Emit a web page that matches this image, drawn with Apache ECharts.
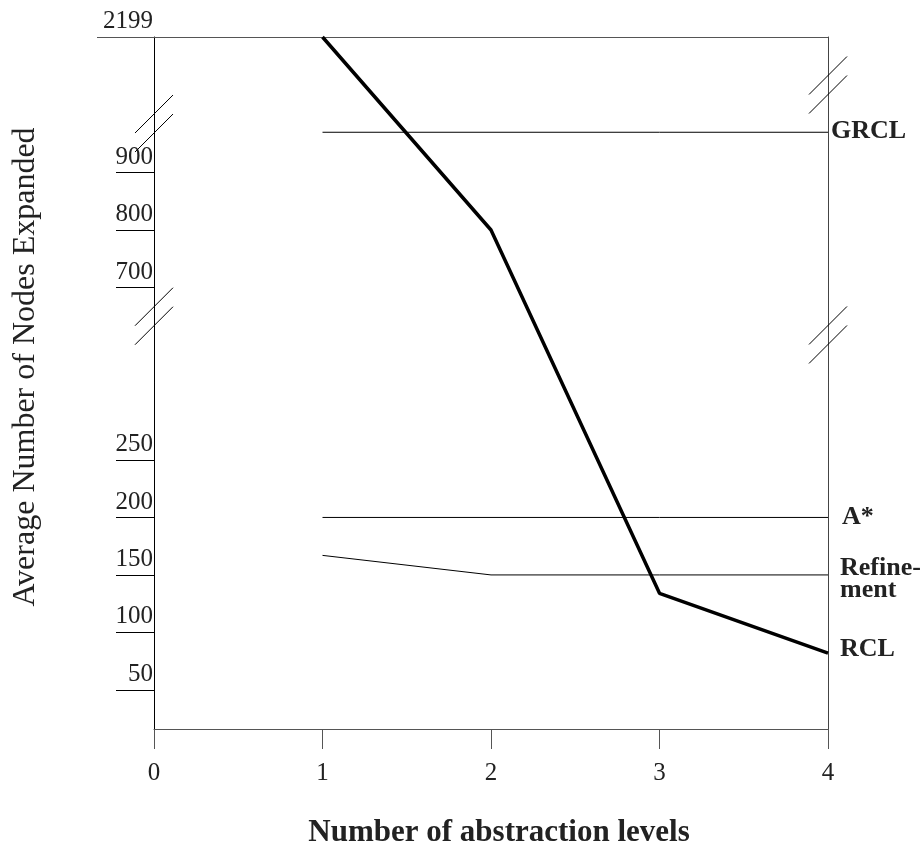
<!DOCTYPE html>
<html>
<head>
<meta charset="utf-8">
<script src="https://cdn.jsdelivr.net/npm/echarts@6/dist/echarts.min.js"></script>
<style>html,body{margin:0;padding:0;background:#fff}#chart{width:922px;height:855px}</style>
</head>
<body>
<div id="chart"></div>
<script>
// ---- data ----
const xLevels = [1, 2, 3, 4];
const grclValues = [970, 970, 970, 970];
const aStarValues = [200, 200, 200, 200];
const refinementValues = [167, 150, 150, 150];
const rclValues = [2199, 800, 134, 82];
const xTickValues = [0, 1, 2, 3, 4];
const yTickValues = [50, 100, 150, 200, 250, 700, 800, 900];
const yTopTick = 2199;
const yBottomValue = 16;

// ---- broken-axis scale: value -> axis units (3 segments) ----
const segments = [
  { v0: 0,    v1: 300,  d0: 0,    d1: 6 },
  { v0: 650,  v1: 1000, d0: 7.5,  d1: 11 },
  { v0: 2100, v1: 2199, d0: 11.5, d1: 12.357 }
];
function toD(v) {
  let seg = segments[0];
  for (const s of segments) { if (v >= s.v0) seg = s; }
  if (v > segments[0].v1 && v < segments[1].v0) seg = segments[0];
  return seg.d0 + (v - seg.v0) * (seg.d1 - seg.d0) / (seg.v1 - seg.v0);
}
function labelFor(d) {
  const all = yTickValues.concat([yTopTick]);
  for (const t of all) if (Math.abs(toD(t) - d) < 1e-6) return String(t);
  return '';
}
const yMin = toD(yBottomValue);
const yMax = toD(yTopTick);

const FONT = 'Liberation Serif';
const TXT = '#222';

function mkSeries(name, vals, width, labelDist, labelDy) {
  return {
    name: name, type: 'line', clip: false, showSymbol: false, symbol: 'none',
    data: xLevels.map((x, i) => [x, toD(vals[i])]),
    lineStyle: { color: '#000', width: width },
    itemStyle: { color: '#000' },
    emphasis: { disabled: true },
    endLabel: {
      show: true, formatter: name === 'Refinement' ? 'Refine-\nment' : name,
      distance: labelDist, offset: [0, labelDy],
      fontFamily: FONT, fontWeight: 'bold', fontSize: 26, lineHeight: 22, color: TXT
    }
  };
}

// axis-break glyph positions (decoration) in axis units
const breakGlyphs = [[0, 10.852], [0, 7.5], [4, 11.522], [4, 7.174]];

const chart = echarts.init(document.getElementById('chart'), null, { renderer: 'canvas' });
chart.setOption({
  animation: false,
  backgroundColor: '#fff',
  grid: { left: 154, right: 94, top: 37, bottom: 126 },
  xAxis: [
    {
      type: 'value', min: 0, max: 4, interval: 1,
      name: 'Number of abstraction levels', nameLocation: 'middle', nameGap: 88,
      nameTextStyle: { fontFamily: FONT, fontWeight: 'bold', fontSize: 31, color: TXT, padding: [0, 0, 0, 16] },
      axisLine: { show: true, onZero: false, lineStyle: { color: '#555', width: 1 } },
      axisTick: { show: true, length: 20, inside: false, lineStyle: { color: '#555', width: 1 } },
      axisLabel: { fontFamily: FONT, fontSize: 25, color: TXT, margin: 32,
        customValues: xTickValues },
      splitLine: { show: false }
    },
    {
      type: 'value', min: 0, max: 4, position: 'top',
      axisLine: { show: true, onZero: false, lineStyle: { color: '#555', width: 1 } },
      axisTick: { show: false }, axisLabel: { show: false }, splitLine: { show: false }
    }
  ],
  yAxis: [
    {
      type: 'value', min: yMin, max: yMax,
      name: 'Average Number of Nodes Expanded', nameLocation: 'middle', nameGap: 112,
      nameTextStyle: { fontFamily: FONT, fontSize: 32, color: TXT, padding: [0, 0, 0, 32] },
      axisLine: { show: true, onZero: false, lineStyle: { color: '#000', width: 1 } },
      axisTick: { show: true, length: 38, inside: false, lineStyle: { color: '#000', width: 1 },
        customValues: yTickValues.map(toD) },
      axisLabel: { fontFamily: FONT, fontSize: 25, color: TXT, margin: 1,
        verticalAlign: 'bottom', padding: [0, 0, 3, 0],
        customValues: yTickValues.concat([yTopTick]).map(toD),
        formatter: labelFor },
      splitLine: { show: false }
    },
    {
      type: 'value', min: yMin, max: yMax, position: 'left',
      axisLine: { show: false },
      axisTick: { show: true, length: 57, inside: false, lineStyle: { color: '#555', width: 1 },
        customValues: [toD(yTopTick)] },
      axisLabel: { show: false }, splitLine: { show: false }
    },
    {
      type: 'value', min: yMin, max: yMax, position: 'right',
      axisLine: { show: true, onZero: false, lineStyle: { color: '#444', width: 1 } },
      axisTick: { show: false }, axisLabel: { show: false }, splitLine: { show: false }
    }
  ],
  series: [
    mkSeries('GRCL', grclValues, 1, 3, -1),
    mkSeries('A*', aStarValues, 1, 14, 0),
    mkSeries('Refinement', refinementValues, 1, 12, 4),
    mkSeries('RCL', rclValues, 3.5, 12, -4),
    {
      type: 'custom', coordinateSystem: 'cartesian2d', silent: true, clip: false,
      data: breakGlyphs,
      renderItem: function (params, api) {
        const p = api.coord([api.value(0), api.value(1)]);
        const h = 19, s = 9.5;
        return {
          type: 'group', children: [
            { type: 'line', shape: { x1: p[0] - h, y1: p[1] - s + h, x2: p[0] + h, y2: p[1] - s - h },
              style: { stroke: '#000', lineWidth: 1 } },
            { type: 'line', shape: { x1: p[0] - h, y1: p[1] + s + h, x2: p[0] + h, y2: p[1] + s - h },
              style: { stroke: '#000', lineWidth: 1 } }
          ]
        };
      }
    }
  ]
});
</script>
</body>
</html>
